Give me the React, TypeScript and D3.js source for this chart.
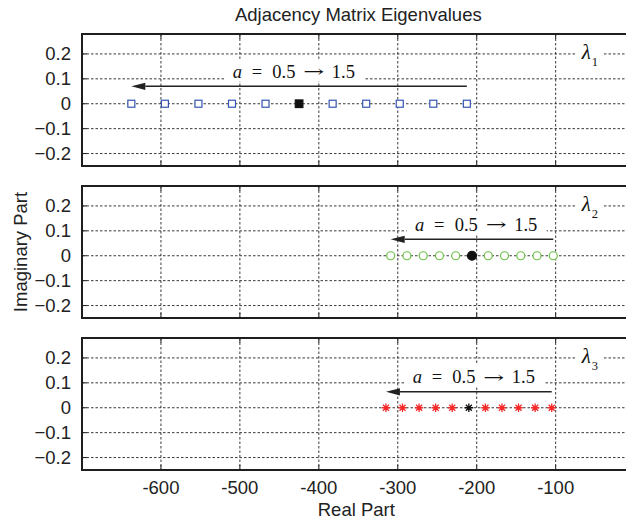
import React from "react";
import * as d3 from "d3";

// Sweep of the parameter a and the three eigenvalue branches (real parts; imaginary parts are zero)
const aValues = [0.5, 0.6, 0.7, 0.8, 0.9, 1.0, 1.1, 1.2, 1.3, 1.4, 1.5];
const lambda1 = [-212.5, -255, -297.5, -340, -382.5, -425, -467.5, -510, -552.5, -595, -637.5];
const lambda2 = [-103, -123.6, -144.2, -164.8, -185.4, -206, -226.6, -247.2, -267.8, -288.4, -309];
const lambda3 = [-105, -126, -147, -168, -189, -210, -231, -252, -273, -294, -315];
const imagPart = [0, 0, 0, 0, 0, 0, 0, 0, 0, 0, 0];
const highlightA = 1.0;

const branchNames = ["1", "2", "3"];
const sweepFrom = "0.5";
const sweepTo = "1.5";
// annotation anchors in data units: label centre x, arrow height
const labelCenterX = [-431, -200, -203];
const arrowY = [0.07, 0.066, 0.064];
const lambdaLabelX = -67;
const lambdaLabelY = 0.18;

const xTicks = [-600, -500, -400, -300, -200, -100];
const yTicks = [-0.2, -0.1, 0, 0.1, 0.2];
const xDomain = [-700, 0];
const yDomain = [-0.25, 0.28];

const W = 626;
const H = 525;
const LEFT = 82;
const RIGHT = 634.6;
const TOP = 34;
const PANEL_H = 132;
const GAP = 20;

const SANS = "'Liberation Sans', Arial, Helvetica, sans-serif";
const SERIF = "'Liberation Serif', 'Times New Roman', serif";
const GRID = "#3a3a3a";

const x = d3.scaleLinear().domain(xDomain).range([LEFT, RIGHT]);

type MarkerKind = "square" | "circle" | "star";

function Marker({ kind, cx, cy, color, filled }: { kind: MarkerKind; cx: number; cy: number; color: string; filled: boolean }) {
  if (kind === "square") {
    const s = filled ? 7.6 : 7;
    return (
      <rect x={cx - s / 2} y={cy - s / 2} width={s} height={s}
        fill={filled ? color : "white"} stroke={color} strokeWidth={1.2} />
    );
  }
  if (kind === "circle") {
    return <circle cx={cx} cy={cy} r={filled ? 4.5 : 4} fill={filled ? color : "white"} stroke={color} strokeWidth={1.2} />;
  }
  const r = 4.2;
  const d = r * 0.72;
  const path = `M${cx - r},${cy}L${cx + r},${cy}M${cx},${cy - r}L${cx},${cy + r}` +
    `M${cx - d},${cy - d}L${cx + d},${cy + d}M${cx - d},${cy + d}L${cx + d},${cy - d}`;
  return <path d={path} stroke={color} strokeWidth={1.3} fill="none" />;
}

const branches: { values: number[]; kind: MarkerKind; color: string }[] = [
  { values: lambda1, kind: "square", color: "#3556b0" },
  { values: lambda2, kind: "circle", color: "#6cc046" },
  { values: lambda3, kind: "star", color: "#f42a2a" },
];

// "a = 0.5 → 1.5" typeset piece by piece around a centre point
function SweepLabel({ cx, baseline }: { cx: number; baseline: number }) {
  const fs = 18.5;
  const common = { fontFamily: SERIF, fontSize: fs, fill: "#111", textAnchor: "middle" as const, y: baseline };
  return (
    <g>
      <text {...common} x={cx - 57} fontStyle="italic">a</text>
      <text {...common} x={cx - 37.5}>=</text>
      <text {...common} x={cx - 10.5}>{sweepFrom}</text>
      <text x={cx + 9} y={baseline - 0.5} fontFamily="'DejaVu Serif', serif" fontSize={16} fill="#111"
        textLength={21} lengthAdjust="spacingAndGlyphs">→</text>
      <text {...common} x={cx + 49}>{sweepTo}</text>
    </g>
  );
}

function Panel({ index }: { index: number }) {
  const top = TOP + index * (PANEL_H + GAP);
  const bottom = top + PANEL_H;
  const y = d3.scaleLinear().domain(yDomain).range([bottom, top]);
  const br = branches[index];
  const ay = y(arrowY[index]);
  const x0 = x(br.values[0]);
  const x1 = x(br.values[br.values.length - 1]);
  const head = 14;
  const tx = x(labelCenterX[index]);
  const baseline = ay - 8.5;
  const lx = x(lambdaLabelX);
  const ly = y(lambdaLabelY);

  return (
    <g>
      {/* grid */}
      {xTicks.map((t) => (
        <line key={`gx${t}`} x1={x(t)} x2={x(t)} y1={top} y2={bottom}
          stroke={GRID} strokeWidth={1} strokeDasharray="2.5 2" />
      ))}
      {yTicks.map((t) => (
        <line key={`gy${t}`} x1={LEFT} x2={RIGHT} y1={y(t)} y2={y(t)}
          stroke={GRID} strokeWidth={1} strokeDasharray="2.5 2" />
      ))}

      {/* sweep annotation */}
      <rect x={tx - 70} y={baseline - 19} width={140} height={22.5} fill="white" />
      <SweepLabel cx={tx} baseline={baseline} />
      <line x1={x0} x2={x1 + head} y1={ay} y2={ay} stroke="#222" strokeWidth={1.4} />
      <path d={`M${x1},${ay}L${x1 + head},${ay - 3.6}L${x1 + head},${ay + 3.6}Z`} fill="#222" />

      {/* branch label */}
      <rect x={lx - 6} y={ly - 16} width={28} height={26} fill="white" />
      <text x={lx} y={ly} fontFamily={SERIF} fontSize={21} fontStyle="italic" fill="#111">
        λ
        <tspan dx={1} dy={7} fontSize={12.5} fontStyle="normal">{branchNames[index]}</tspan>
      </text>

      {/* eigenvalues */}
      {br.values.map((v, i) => {
        const hl = aValues[i] === highlightA;
        return (
          <Marker key={i} kind={br.kind} cx={x(v)} cy={y(imagPart[i])}
            color={hl ? "#111" : br.color} filled={hl} />
        );
      })}

      {/* ticks */}
      {yTicks.map((t) => (
        <g key={`ty${t}`}>
          <line x1={LEFT} x2={LEFT + 5} y1={y(t)} y2={y(t)} stroke="#222" strokeWidth={1} />
          <text x={71} y={y(t)} dy="0.35em" textAnchor="end" fontFamily={SANS} fontSize={18.5} fill="#222">
            {t === 0 ? "0" : d3.format(".1f")(t)}
          </text>
        </g>
      ))}
      {xTicks.map((t) => (
        <g key={`tx${t}`}>
          <line x1={x(t)} x2={x(t)} y1={bottom} y2={bottom - 5} stroke="#222" strokeWidth={1} />
          <line x1={x(t)} x2={x(t)} y1={top} y2={top + 5} stroke="#222" strokeWidth={1} />
        </g>
      ))}

      {/* frame */}
      <path d={`M${RIGHT},${top}H${LEFT}V${bottom}H${RIGHT}`} fill="none" stroke="#1e1e1e" strokeWidth={2} />
    </g>
  );
}

export default function App() {
  const lastBottom = TOP + 2 * (PANEL_H + GAP) + PANEL_H;
  return (
    <svg width={W} height={H} viewBox={`0 0 ${W} ${H}`}
      style={{ position: "absolute", left: 0, top: 0, background: "white" }}>
      <rect width={W} height={H} fill="white" />
      <text x={(LEFT + RIGHT) / 2} y={20.5} textAnchor="middle" fontFamily={SANS} fontSize={18.5} fill="#222">
        Adjacency Matrix Eigenvalues
      </text>
      {[0, 1, 2].map((i) => <Panel key={i} index={i} />)}
      {xTicks.map((t) => (
        <text key={t} x={x(t)} y={494} textAnchor="middle" fontFamily={SANS} fontSize={18.5} fill="#222">
          {t}
        </text>
      ))}
      <text x={(LEFT + RIGHT) / 2 - 2} y={516} textAnchor="middle" fontFamily={SANS} fontSize={18.5} fill="#222">
        Real Part
      </text>
      <text transform={`translate(26.5, ${(TOP + lastBottom) / 2}) rotate(-90)`} textAnchor="middle"
        fontFamily={SANS} fontSize={18.5} fill="#222">
        Imaginary Part
      </text>
    </svg>
  );
}
